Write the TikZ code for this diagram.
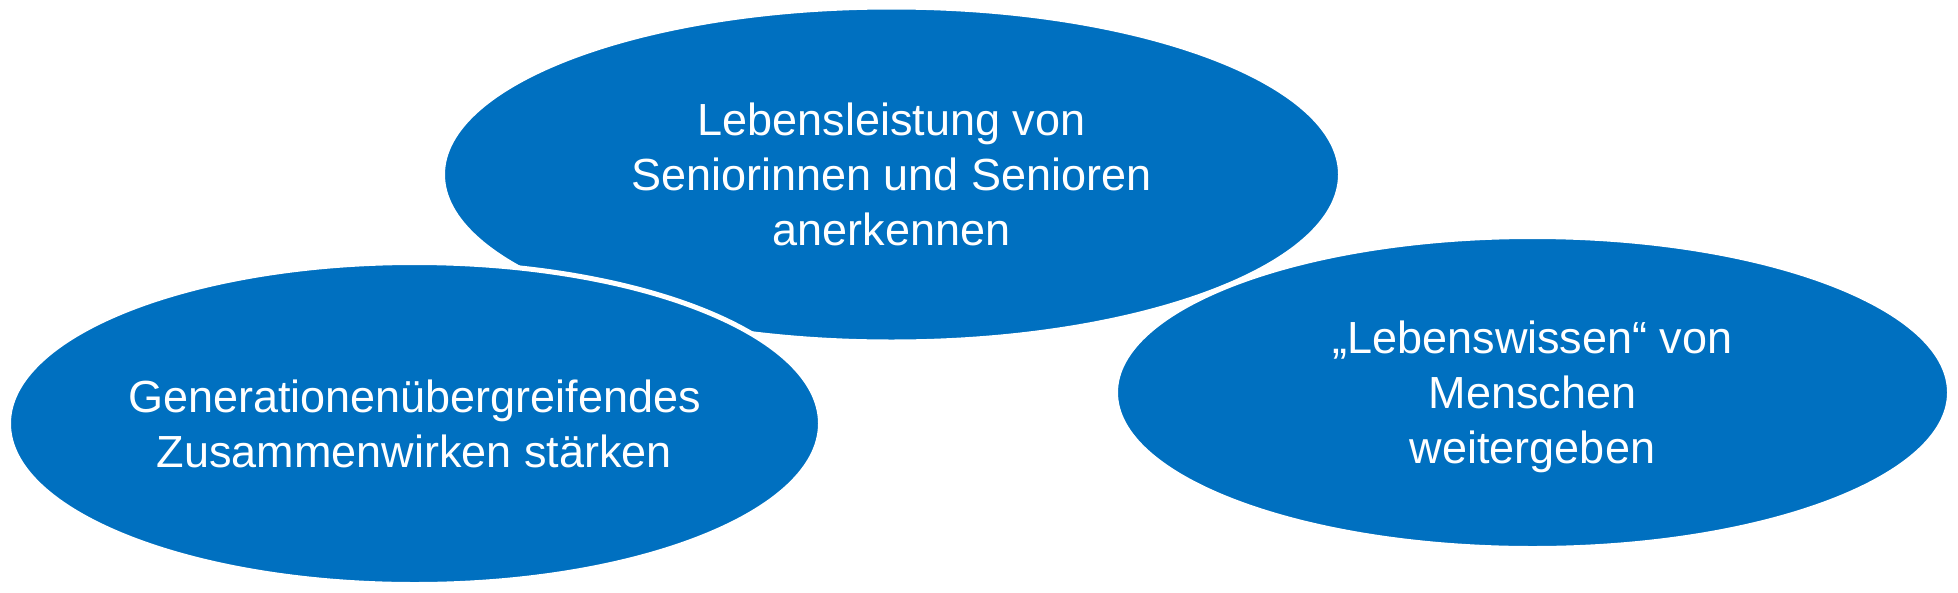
\documentclass[tikz,border=0pt]{standalone}
\usepackage{fontspec}
\setmainfont{Liberation Sans}
\usetikzlibrary{shapes.geometric}
\definecolor{pptblue}{RGB}{0,112,192}
\tikzset{
  bubble/.style={ellipse, fill=pptblue, draw=white, line width=5pt, inner sep=0pt,
    text=white, align=center, text depth=0pt, font=\fontsize{45}{55}\selectfont},
}
\begin{document}
\begin{tikzpicture}[x=1pt,y=-1pt]
\useasboundingbox (0,0) rectangle (1958,592);
\node[bubble, minimum width=898pt, minimum height=335pt] (top) at (891.5,174.5)
  {Lebensleistung von\\Seniorinnen und Senioren\\anerkennen};
\node[bubble, minimum width=812pt, minimum height=322pt] (left) at (414.5,423.5)
  {Generationenübergreifendes\\Zusammenwirken stärken};
\node[bubble, minimum width=834pt, minimum height=312pt] (right) at (1532.5,392.5)
  {„Lebenswissen“ von\\Menschen\\weitergeben};
\end{tikzpicture}
\end{document}
